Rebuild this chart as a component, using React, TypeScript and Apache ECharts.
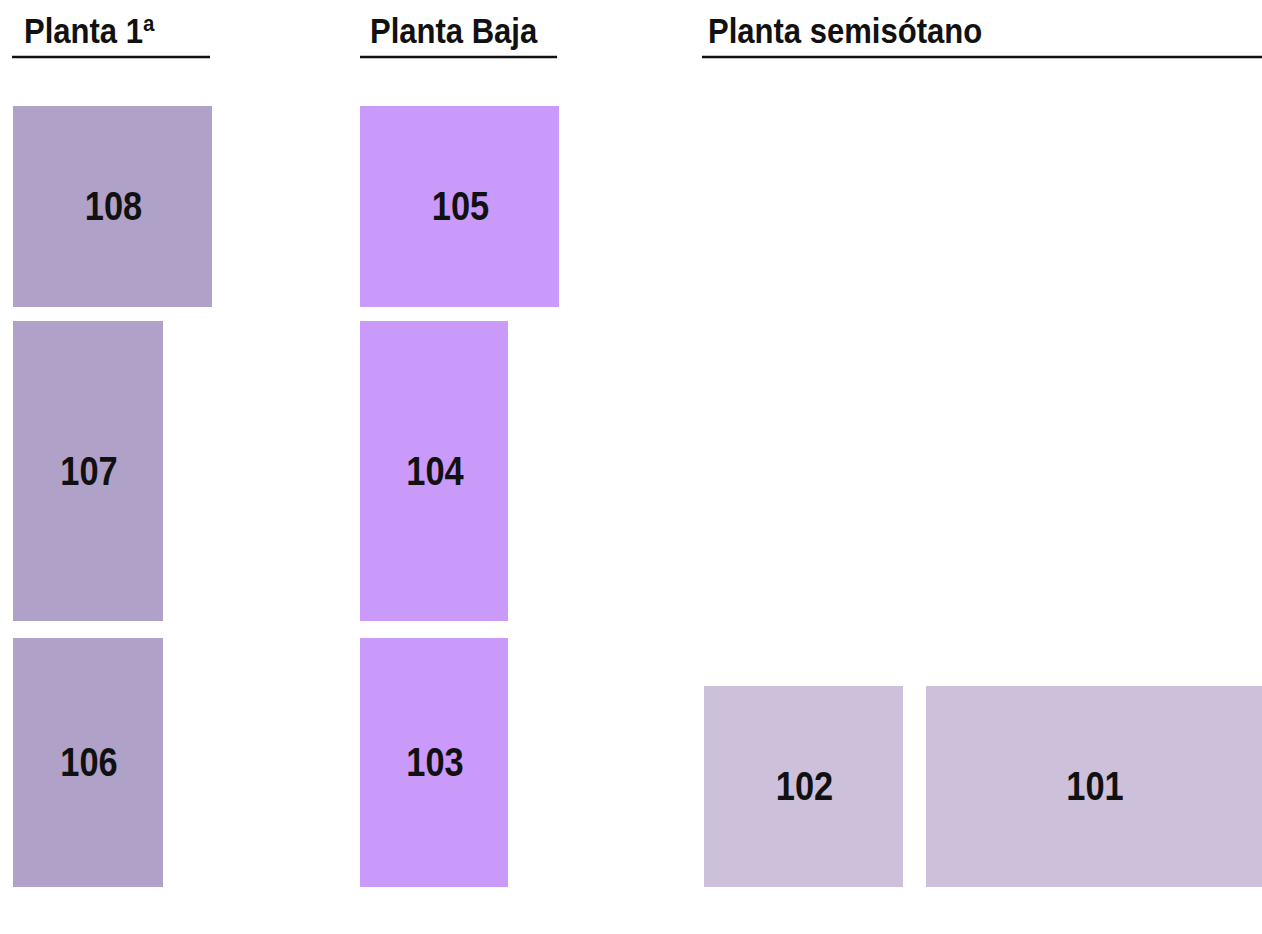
import React, { useEffect, useRef } from "react";
import * as echarts from "echarts";

// Floors (headers) of the plan
const floorNames = ["Planta 1ª", "Planta Baja", "Planta semisótano"];
const floorLineX0 = [12, 360, 702];
const floorLineX1 = [210, 557, 1262];
const floorLineY = [57, 57, 57];
const floorTextX = [24, 370, 708];
const floorTextY = [31, 31, 31];

// Rooms: name, floor index and extents in plan units
const roomNames = ["108", "107", "106", "105", "104", "103", "102", "101"];
const roomFloor = [0, 0, 0, 1, 1, 1, 2, 2];
const roomX0 = [13, 13, 13, 360, 360, 360, 704, 926];
const roomX1 = [212, 163, 163, 559, 508, 508, 903, 1262];
const roomY0 = [106, 321, 638, 106, 321, 638, 686, 686];
const roomY1 = [307, 621, 887, 307, 621, 887, 887, 887];

const floorColors = ["#b0a1c8", "#ca9afb", "#cdc0da"];

const W = 1262;
const H = 934;

export default function App() {
  const ref = useRef<HTMLDivElement>(null);
  useEffect(() => {
    if (!ref.current) return;
    const chart = echarts.init(ref.current, null, { renderer: "svg" });
    const roomData = roomNames.map((n, i) => [roomX0[i], roomX1[i], roomY0[i], roomY1[i], roomFloor[i], n]);
    const floorData = floorNames.map((n, i) => [floorLineX0[i], floorLineX1[i], floorLineY[i], floorTextX[i], floorTextY[i], n]);
    const font = "'Liberation Sans', Arial, sans-serif";
    chart.setOption({
      animation: false,
      backgroundColor: "#ffffff",
      grid: { left: 0, top: 0, width: W, height: H },
      xAxis: { type: "value", min: 0, max: W, show: false },
      yAxis: { type: "value", min: 0, max: H, inverse: true, show: false },
      series: [
        {
          type: "custom",
          data: roomData,
          renderItem: (params: any, api: any) => {
            const p0 = api.coord([api.value(0), api.value(2)]);
            const p1 = api.coord([api.value(1), api.value(3)]);
            const fi = api.value(4);
            const name = roomData[params.dataIndex][5];
            const x = Math.min(p0[0], p1[0]);
            const y = Math.min(p0[1], p1[1]);
            const w = Math.abs(p1[0] - p0[0]);
            const h = Math.abs(p1[1] - p0[1]);
            return {
              type: "group",
              children: [
                { type: "rect", shape: { x, y, width: w, height: h }, style: { fill: floorColors[fi] } },
                {
                  type: "text",
                  x: x + w / 2 + 1,
                  y: y + h / 2,
                  scaleX: 0.93,
                  scaleY: 1.08,
                  style: {
                    text: name,
                    fill: "#111111",
                    font: `bold 37px ${font}`,
                    align: "center",
                    verticalAlign: "middle",
                  },
                },
              ],
            };
          },
        },
        {
          type: "custom",
          data: floorData,
          renderItem: (params: any, api: any) => {
            const a = api.coord([api.value(0), api.value(2)]);
            const b = api.coord([api.value(1), api.value(2)]);
            const t = api.coord([api.value(3), api.value(4)]);
            const name = floorData[params.dataIndex][5];
            return {
              type: "group",
              children: [
                { type: "line", shape: { x1: a[0], y1: a[1], x2: b[0], y2: b[1] }, style: { stroke: "#111111", lineWidth: 2.5 } },
                {
                  type: "text",
                  x: t[0],
                  y: t[1],
                  scaleX: 0.97,
                  scaleY: 1.08,
                  style: {
                    text: name,
                    fill: "#111111",
                    font: `bold 32px ${font}`,
                    align: "left",
                    verticalAlign: "middle",
                  },
                },
              ],
            };
          },
        },
      ],
    });
    return () => chart.dispose();
  }, []);
  return <div ref={ref} style={{ position: "fixed", left: 0, top: 0, width: W, height: H }} />;
}
